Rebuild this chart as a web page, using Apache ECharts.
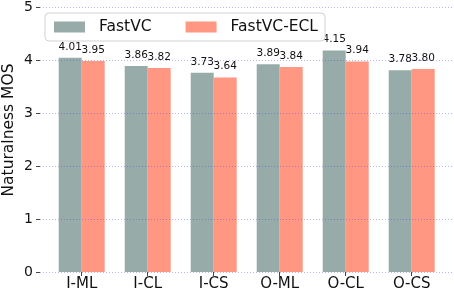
<!DOCTYPE html>
<html>
<head>
<meta charset="utf-8">
<script src="https://cdn.jsdelivr.net/npm/echarts@6/dist/echarts.min.js"></script>
<style>html,body{margin:0;padding:0;background:#fff}#c{width:454px;height:292px}</style>
</head>
<body>
<div id="c"></div>
<script>
const categories = ['I-ML', 'I-CL', 'I-CS', 'O-ML', 'O-CL', 'O-CS'];
const fastVC = [4.01, 3.86, 3.73, 3.89, 4.15, 3.78];
const fastVCECL = [3.95, 3.82, 3.64, 3.84, 3.94, 3.80];
const seriesNames = ['FastVC', 'FastVC-ECL'];
const yTicks = [0, 1, 2, 3, 4, 5];
const yAxisTitle = 'Naturalness MOS';

const FONT = 'DejaVu Sans';
const chart = echarts.init(document.getElementById('c'), null, {renderer: 'canvas'});
const labelCfg = {
  show: true, position: 'top', distance: 5.5,
  fontFamily: FONT, fontSize: 10.5, color: '#111',
  formatter: p => p.value.toFixed(2)
};
chart.setOption({
  animation: false,
  backgroundColor: '#fff',
  textStyle: {fontFamily: FONT},
  legend: {
    left: 45, top: 13,
    data: seriesNames,
    icon: 'rect', itemWidth: 31, itemHeight: 11, itemGap: 34,
    padding: [6, 7, 6, 9],
    borderColor: '#d2d2d2', borderWidth: 1, borderRadius: 4,
    backgroundColor: '#fff',
    textStyle: {fontFamily: FONT, fontSize: 15.5, color: '#111', padding: [0, 0, 0, 9]}
  },
  graphic: [{
    type: 'text', x: 8.5, y: 130, rotation: Math.PI / 2,
    style: {text: yAxisTitle, font: '15.5px "DejaVu Sans"', fill: '#111', align: 'center', verticalAlign: 'middle'}
  }],
  grid: [
    {left: 40, right: 0, top: 5, bottom: 20},
    {left: 48.7, right: 9.3, top: 5, bottom: 20}
  ],
  xAxis: [
    {gridIndex: 0, type: 'value', min: 0, max: 1, show: false},
    {gridIndex: 1, type: 'category', data: categories,
     axisLine: {show: false},
     axisTick: {show: true, alignWithLabel: true, length: 4, lineStyle: {color: '#444'}},
     axisLabel: {fontFamily: FONT, fontSize: 15, color: '#111', margin: 5}}
  ],
  yAxis: [
    {gridIndex: 0, type: 'value', min: yTicks[0], max: yTicks[yTicks.length - 1], interval: 1, z: 10,
     axisLine: {show: false},
     axisTick: {show: true, length: 4, lineStyle: {color: '#444'}},
     axisLabel: {fontFamily: FONT, fontSize: 14, color: '#111', margin: 7},
     splitLine: {show: true, lineStyle: {color: 'rgba(60,60,235,0.38)', width: 1, type: [1, 2]}}},
    {gridIndex: 1, type: 'value', min: 0, max: 5, show: false}
  ],
  series: [
    {name: seriesNames[0], type: 'bar', xAxisIndex: 1, yAxisIndex: 1, data: fastVC,
     barWidth: 23, barGap: '0%', itemStyle: {color: '#97aca9'}, label: labelCfg},
    {name: seriesNames[1], type: 'bar', xAxisIndex: 1, yAxisIndex: 1, data: fastVCECL,
     barWidth: 23, barGap: '0%', itemStyle: {color: '#ff9782'}, label: labelCfg}
  ]
});
</script>
</body>
</html>
